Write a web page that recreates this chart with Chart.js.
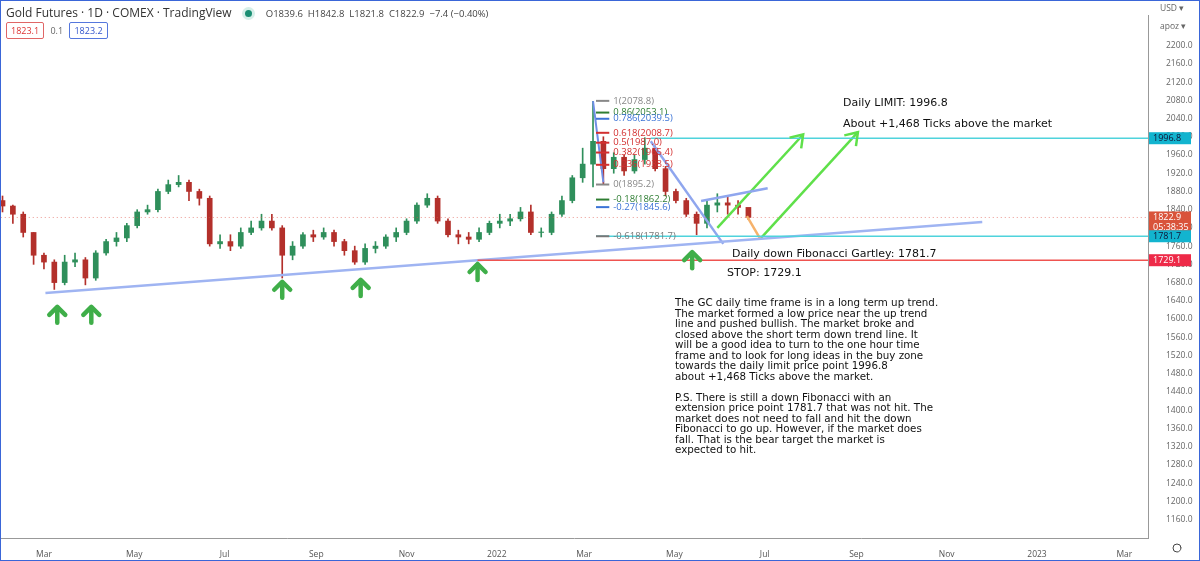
<!DOCTYPE html>
<html><head><meta charset="utf-8">
<script src="https://cdn.jsdelivr.net/npm/chart.js@4"></script>
<style>
html,body{margin:0;padding:0;background:#fff;}
#wrap{position:relative;width:1200px;height:561px;}
#hdr{position:absolute;left:6px;top:4px;font:12px "Open Sans",sans-serif;color:#333;}
#hdr .o{font-size:9.5px;color:#444;margin-left:14px;}
#hdr .dot{display:inline-block;width:7px;height:7px;border-radius:50%;background:#1a8f73;margin-left:10px;box-shadow:0 0 0 3px #d6efe9;}
#tags{position:absolute;left:6px;top:22px;font:9px "Open Sans",sans-serif;}
#tags span{display:inline-block;padding:1px 4px;border-radius:2px;}
#frame{position:absolute;left:0;top:0;width:1198px;height:559px;border:1px solid #3a66d8;pointer-events:none;}
</style></head><body>
<div id="wrap">
<canvas id="c" width="1200" height="561"></canvas>
<div id="hdr">Gold Futures · 1D · COMEX · TradingView <span class="dot"></span><span class="o">O1839.6 &nbsp;H1842.8 &nbsp;L1821.8 &nbsp;C1822.9 &nbsp;−7.4 (−0.40%)</span></div>
<div id="tags"><span style="border:1px solid #e06666;color:#d33;">1823.1</span> <span style="color:#666;">0.1</span> <span style="border:1px solid #5577dd;color:#3355cc;">1823.2</span></div>
<div id="frame"></div>
</div>
<script>
// weekly candles, day numbers counted from 1 Mar 2021
const startDay = -28;
const closes = [1848,1830,1790,1740,1725,1680,1725,1730,1690,1745,1770,1778,1805,1835,1840,1880,1895,1900,1880,1865,1765,1770,1760,1790,1800,1815,1800,1740,1760,1785,1780,1790,1770,1750,1725,1755,1760,1780,1790,1815,1850,1865,1815,1785,1780,1775,1790,1810,1815,1820,1835,1790,1790,1830,1860,1910,1940,1990,1930,1955,1925,1950,1975,1930,1880,1860,1830,1810,1850,1855,1850,1845,1823];
const highs = [1870,1850,1835,1790,1745,1730,1740,1745,1735,1750,1775,1790,1810,1840,1850,1885,1905,1915,1905,1885,1870,1785,1785,1800,1815,1830,1830,1805,1770,1790,1795,1800,1795,1775,1760,1765,1770,1785,1800,1820,1855,1875,1870,1820,1795,1790,1800,1815,1830,1830,1845,1850,1800,1835,1870,1915,1975,2078,2000,1965,1960,1960,1998,1980,1935,1885,1865,1835,1860,1875,1870,1860,1842];
const lows = [1835,1810,1780,1720,1710,1665,1675,1715,1675,1685,1740,1760,1770,1800,1830,1835,1875,1890,1860,1850,1760,1755,1750,1755,1785,1795,1795,1690,1730,1755,1770,1775,1760,1740,1720,1720,1745,1755,1770,1785,1810,1845,1810,1780,1765,1765,1770,1785,1800,1805,1815,1785,1780,1785,1825,1855,1900,1890,1895,1920,1915,1920,1940,1925,1870,1855,1825,1785,1800,1835,1830,1830,1818];
const firstOpen = 1860;
const monthTicks = [0,61,122,184,245,306,365,426,487,549,610,671,730];
const monthLabels = ['Mar','May','Jul','Sep','Nov','2022','Mar','May','Jul','Sep','Nov','2023','Mar'];
const priceTicks = [];
for (let p = 1160; p <= 2200; p += 40) priceTicks.push(p);
// drawings [day, price]
const upTrend = [[1,1657],[634,1813]];
const downTrend = [[410,1990],[459,1765]];
const channel = [[444,1859],[489,1887]];
const fibLeg = [[371,2078],[378,1900]];
const orangeLeg = [[475,1826],[484,1776]];
const greenArrow1 = [[455,1800],[513,2005]];
const greenArrow2 = [[484,1776],[550,2010]];
const limitLevel = 1996.8, limitFrom = 410;
const targetLevel = 1781.7, targetFrom = 373;
const stopLevel = 1729.1, stopFrom = 293;
const lastPrice = 1822.9;
const fibLevels = [['1(2078.8)',2078.8,'#888'],['0.86(2053.1)',2053.1,'#2e7d32'],['0.786(2039.5)',2039.5,'#3b73d6'],['0.618(2008.7)',2008.7,'#d32f2f'],['0.5(1987.0)',1987.0,'#d32f2f'],['0.382(1965.4)',1965.4,'#d32f2f'],['0.236(1938.5)',1938.5,'#d32f2f'],['0(1895.2)',1895.2,'#888'],['-0.18(1862.2)',1862.2,'#2e7d32'],['-0.27(1845.6)',1845.6,'#3b73d6'],['-0.618(1781.7)',1781.7,'#777']];
const fibDays = [373,382];
const bounceArrows = [[9,1629],[32,1629],[161,1684],[214,1688],[293,1723],[438,1749]];

const days = closes.map((_, i) => startDay + 7 * i);
const opens = closes.map((_, i) => i === 0 ? firstOpen : closes[i - 1]);
const up = closes.map((c, i) => c >= opens[i]);
const colG = '#2f8f5b', colR = '#b3302b';
const pts = a => a.map(p => ({x: p[0], y: p[1]}));
const lineDs = (data, color, w, dash) => ({type: 'line', data: pts(data), borderColor: color, borderWidth: w, borderDash: dash || [], pointRadius: 0, fill: false, order: 0});
const hLine = (from, lvl, color) => lineDs([[from, lvl], [760, lvl]], color, 1.5);

const paragraph = ["The GC daily time frame is in a long term up trend.","The market formed a low price near the up trend","line and pushed bullish. The market broke and","closed above the short term down trend line. It","will be a good idea to turn to the one hour time","frame and to look for long ideas in the buy zone","towards the daily limit price point 1996.8","about +1,468 Ticks above the market.","","P.S. There is still a down Fibonacci with an","extension price point 1781.7 that was not hit. The","market does not need to fall and hit the down","Fibonacci to go up. However, if the market does","fall. That is the bear target the market is","expected to hit."];

const overlay = {
  id: 'overlay',
  afterDatasetsDraw(chart) {
    const {ctx, scales: {x, y}} = chart;
    ctx.save();
    ctx.font = '9.5px "Open Sans", sans-serif';
    ctx.textBaseline = 'middle';
    fibLevels.forEach(f => {
      const yy = y.getPixelForValue(f[1]);
      ctx.strokeStyle = f[2]; ctx.lineWidth = 2;
      ctx.beginPath(); ctx.moveTo(x.getPixelForValue(fibDays[0]), yy); ctx.lineTo(x.getPixelForValue(fibDays[1]), yy); ctx.stroke();
      ctx.fillStyle = f[2]; ctx.fillText(f[0], x.getPixelForValue(fibDays[1]) + 4, yy);
    });
    [greenArrow1, greenArrow2].forEach(a => {
      const x1 = x.getPixelForValue(a[0][0]), y1 = y.getPixelForValue(a[0][1]);
      const x2 = x.getPixelForValue(a[1][0]), y2 = y.getPixelForValue(a[1][1]);
      const ang = Math.atan2(y2 - y1, x2 - x1);
      ctx.strokeStyle = '#5fe04a'; ctx.lineWidth = 2.5;
      ctx.beginPath();
      ctx.moveTo(x2 - 14 * Math.cos(ang - 0.6), y2 - 14 * Math.sin(ang - 0.6));
      ctx.lineTo(x2, y2);
      ctx.lineTo(x2 - 14 * Math.cos(ang + 0.6), y2 - 14 * Math.sin(ang + 0.6));
      ctx.stroke();
    });
    ctx.strokeStyle = '#3fae49'; ctx.lineWidth = 4.5; ctx.lineCap = 'round'; ctx.lineJoin = 'round';
    bounceArrows.forEach(b => {
      const bx = x.getPixelForValue(b[0]), by = y.getPixelForValue(b[1]);
      ctx.beginPath(); ctx.moveTo(bx, by + 2); ctx.lineTo(bx, by + 17); ctx.stroke();
      ctx.beginPath(); ctx.moveTo(bx - 8, by + 9); ctx.lineTo(bx, by + 1); ctx.lineTo(bx + 8, by + 9); ctx.stroke();
    });
    ctx.fillStyle = '#111'; ctx.textBaseline = 'alphabetic';
    ctx.font = '11px "DejaVu Sans", sans-serif';
    ctx.fillText('Daily LIMIT: 1996.8', 843, 106);
    ctx.fillText('About +1,468 Ticks above the market', 843, 127);
    ctx.fillText('Daily down Fibonacci Gartley: 1781.7', 732, 257);
    ctx.fillText('STOP: 1729.1', 727, 276);
    ctx.font = '10.3px "DejaVu Sans", sans-serif';
    paragraph.forEach((t, i) => ctx.fillText(t, 675, 306 + i * 10.5));
    const tag = (v, bg, txt, sub) => {
      const yy = y.getPixelForValue(v);
      const h = sub ? 22 : 12;
      ctx.fillStyle = bg; ctx.fillRect(1149, yy - 6, 42, h);
      ctx.fillStyle = txt; ctx.font = '9px "Open Sans", sans-serif'; ctx.textBaseline = 'middle';
      ctx.fillText(v.toFixed(1), 1153, yy);
      if (sub) ctx.fillText(sub, 1153, yy + 10);
    };
    tag(limitLevel, '#12b4cf', '#113', null);
    tag(lastPrice, '#d9533a', '#fff', '05:38:35');
    tag(targetLevel, '#12b4cf', '#113', null);
    tag(stopLevel, '#ee2a48', '#fff', null);
    ctx.font = '8.5px "Open Sans", sans-serif'; ctx.fillStyle = '#666';
    ctx.fillText('USD ▾', 1160, 9); ctx.fillText('apoz ▾', 1160, 27);
    ctx.strokeStyle = '#444'; ctx.lineWidth = 1;
    ctx.beginPath(); ctx.arc(1177, 548, 4, 0, 7); ctx.stroke();
    ctx.restore();
  }
};

new Chart(document.getElementById('c'), {
  type: 'bar',
  data: {
    datasets: [
      lineDs([[-40, lastPrice], [760, lastPrice]], 'rgba(220,80,70,0.6)', 1, [1, 3]),
      hLine(limitFrom, limitLevel, '#4fd3dc'),
      hLine(targetFrom, targetLevel, '#4fd3dc'),
      hLine(stopFrom, stopLevel, '#ef5350'),
      lineDs(upTrend, '#9fb4f2', 2.5),
      lineDs(downTrend, '#8fa6ee', 2.5),
      lineDs(channel, '#8fa6ee', 2.5),
      lineDs(fibLeg, '#6f8ee6', 2),
      lineDs(orangeLeg, '#f6b26b', 2.5),
      lineDs(greenArrow1, '#5fe04a', 2.5),
      lineDs(greenArrow2, '#5fe04a', 2.5),
      {type: 'bar', data: days.map((d, i) => ({x: d, y: [lows[i], highs[i]]})), backgroundColor: up.map(u => u ? colG : colR), barThickness: 1, grouped: false, order: 2},
      {type: 'bar', data: days.map((d, i) => ({x: d, y: [opens[i], closes[i] === opens[i] ? closes[i] + 1 : closes[i]]})), backgroundColor: up.map(u => u ? colG : colR), barThickness: 5, grouped: false, order: 1}
    ]
  },
  options: {
    responsive: false, animation: false,
    layout: {padding: 0},
    plugins: {legend: {display: false}, tooltip: {enabled: false}},
    scales: {
      x: {type: 'linear', min: -29.7, max: 746, offset: false,
        grid: {display: false}, border: {color: '#999'},
        afterBuildTicks: s => { s.ticks = monthTicks.map(v => ({value: v})); },
        afterFit: s => { s.height = 23; },
        ticks: {color: '#555', font: {size: 8.5, family: 'Open Sans'}, maxRotation: 0, autoSkip: false,
          callback: (v) => monthLabels[monthTicks.indexOf(v)] ?? ''}},
      y: {position: 'right', min: 1119.5, max: 2267,
        grid: {display: false}, border: {color: '#999'},
        afterBuildTicks: s => { s.ticks = priceTicks.map(v => ({value: v})); },
        afterFit: s => { s.width = 52; },
        ticks: {color: '#666', font: {size: 8.5, family: 'Open Sans'}, padding: 10, callback: v => v.toFixed(1)}}
    }
  },
  plugins: [overlay]
});
</script>
</body></html>
